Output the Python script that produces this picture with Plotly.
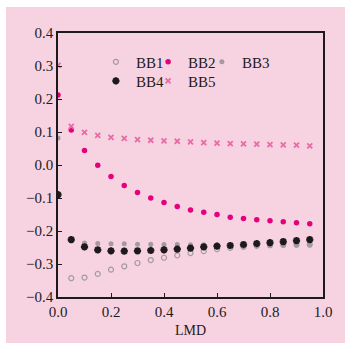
import plotly.graph_objects as go

lmd = [0.0, 0.05, 0.10, 0.15, 0.20, 0.25, 0.30, 0.35, 0.40, 0.45,
       0.50, 0.55, 0.60, 0.65, 0.70, 0.75, 0.80, 0.85, 0.90, 0.95]
bb1 = [None, -0.343, -0.341, -0.330, -0.317, -0.307, -0.297, -0.288, -0.281, -0.274,
       -0.267, -0.261, -0.255, -0.251, -0.248, -0.245, -0.243, -0.242, -0.241, -0.240]
bb2 = [0.212, 0.106, 0.044, -0.001, -0.035, -0.062, -0.083, -0.100, -0.114, -0.126,
       -0.136, -0.143, -0.150, -0.158, -0.162, -0.166, -0.169, -0.172, -0.175, -0.178]
bb3 = [0.082, -0.228, -0.236, -0.238, -0.239, -0.239, -0.240, -0.240, -0.241, -0.241,
       -0.242, -0.242, -0.243, -0.243, -0.243, -0.243, -0.243, -0.243, -0.243, -0.243]
bb4 = [-0.090, -0.226, -0.248, -0.257, -0.260, -0.261, -0.260, -0.259, -0.257, -0.255,
       -0.252, -0.248, -0.246, -0.244, -0.241, -0.238, -0.235, -0.232, -0.229, -0.226]
bb5 = [0.302, 0.117, 0.099, 0.090, 0.084, 0.081, 0.077, 0.075, 0.073, 0.072,
       0.070, 0.068, 0.066, 0.065, 0.064, 0.063, 0.062, 0.061, 0.060, 0.058]

names = ["BB1", "BB2", "BB3", "BB4", "BB5"]
PINK = "#f7d3e1"
FONT = "Liberation Serif"

fig = go.Figure()
fig.add_trace(go.Scatter(x=lmd, y=bb1, mode="markers", name=names[0], legend="legend",
                         showlegend=True,
                         marker=dict(symbol="circle-open", size=5, color="#a39ba1",
                                     line=dict(width=1.2, color="#a39ba1"))))
fig.add_trace(go.Scatter(x=lmd, y=bb2, mode="markers", name=names[1], legend="legend2",
                         showlegend=True,
                         marker=dict(symbol="circle", size=5.5, color="#e5007d")))
fig.add_trace(go.Scatter(x=lmd, y=bb3, mode="markers", name=names[2], legend="legend3",
                         showlegend=True,
                         marker=dict(symbol="circle", size=5, color="#a39ba1")))
fig.add_trace(go.Scatter(x=lmd, y=bb4, mode="markers", name=names[3], legend="legend4",
                         showlegend=True,
                         marker=dict(symbol="asterisk-open", size=6, color="#1e1a1c",
                                     line=dict(width=2.2, color="#1e1a1c"))))
fig.add_trace(go.Scatter(x=lmd, y=bb5, mode="markers", name=names[4], legend="legend5",
                         showlegend=True,
                         marker=dict(symbol="x-thin-open", size=5, color="#ea6aa8",
                                     line=dict(width=1.8, color="#ea6aa8"))))

axis_common = dict(showline=True, linecolor="#1e1a1c", linewidth=1.5, mirror=True,
                   ticks="inside", ticklen=4, tickwidth=1.2, tickcolor="#1e1a1c",
                   showgrid=False, zeroline=False, automargin=False,
                   tickfont=dict(family=FONT, size=15, color="#1e1a1c"))

legend_common = dict(orientation="h", xanchor="left", yanchor="middle",
                     bgcolor="rgba(0,0,0,0)", font=dict(family=FONT, size=15),
                     itemwidth=30, borderwidth=0)

row1, row2 = 0.89, 0.818
c1, c2, c3 = 0.143, 0.340, 0.543
fig.update_layout(
    width=339, height=336,
    margin=dict(l=52, r=22, t=26, b=46),
    paper_bgcolor=PINK, plot_bgcolor=PINK,
    showlegend=True,
    font=dict(family=FONT, size=14, color="#1e1a1c"),
    xaxis=dict(range=[0, 1.0], dtick=0.2, tickformat=".1f",
               title=dict(text="LMD", font=dict(family=FONT, size=14), standoff=6),
               **axis_common),
    yaxis=dict(range=[-0.4, 0.4], dtick=0.1, tickformat=".1f", **axis_common),
    legend=dict(x=c1, y=row1, **legend_common),
    legend2=dict(x=c2, y=row1, **legend_common),
    legend3=dict(x=c3, y=row1, **legend_common),
    legend4=dict(x=c1, y=row2, **legend_common),
    legend5=dict(x=c2, y=row2, **legend_common),
)

fig.write_html("out.html",
               post_script="document.body.style.margin='7px 0 0 6px';document.body.style.overflow='hidden';")
